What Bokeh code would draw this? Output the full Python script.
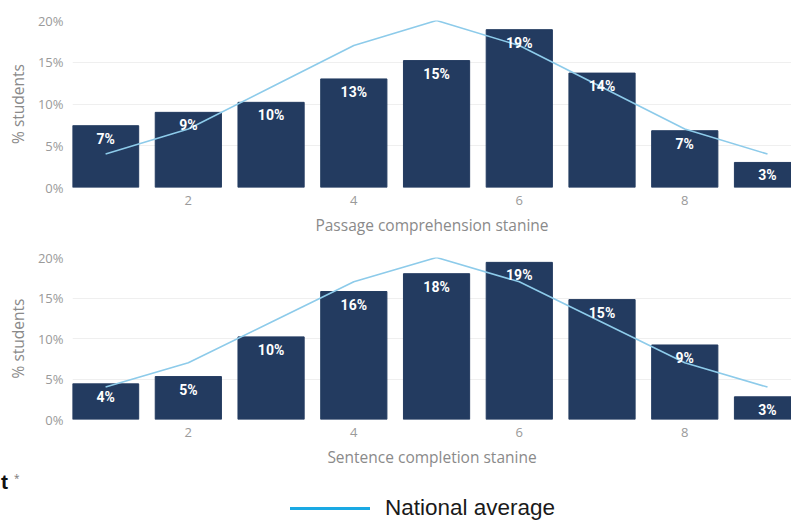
from bokeh.plotting import figure
from bokeh.layouts import column
from bokeh.models import Range1d, ColumnDataSource, Div
from bokeh.core.properties import value
from bokeh.embed import file_html
from bokeh.resources import INLINE

stanines = [1, 2, 3, 4, 5, 6, 7, 8, 9]
passage = [7.4, 9.0, 10.2, 13.0, 15.2, 18.9, 13.7, 6.8, 3.0]
passage_labels = ["7%", "9%", "10%", "13%", "15%", "19%", "14%", "7%", "3%"]
sentence = [4.4, 5.3, 10.2, 15.8, 18.0, 19.4, 14.8, 9.2, 2.8]
sentence_labels = ["4%", "5%", "10%", "16%", "18%", "19%", "15%", "9%", "3%"]
national = [4, 7, 12, 17, 20, 17, 12, 7, 4]
x_ticks = [2, 4, 6, 8]
y_ticks = [0, 5, 10, 15, 20]
legend_label = "National average"

BAR = "#233B60"
LINE = "#8DCBEA"
TICK = "#9A9A9A"
FONT = "Open Sans"
LEFT = 72


def make_chart(vals, labels, xlabel, height, top, bottom):
    p = figure(width=791, height=height, output_backend="svg", toolbar_location=None,
               x_range=Range1d(0.6, 9.29), y_range=Range1d(0, 20),
               min_border_left=LEFT, min_border_right=0, min_border_top=top,
               min_border_bottom=bottom, outline_line_color=None)
    src = ColumnDataSource(dict(x=stanines, top=vals, lab=labels, nat=national))
    p.vbar(x="x", top="top", width=0.8, source=src, color=BAR)
    p.line(x="x", y="nat", source=src, line_color=LINE, line_width=1.6)
    p.text(x="x", y="top", text="lab", source=src, text_color="white",
           text_font=value("Roboto"), text_font_style="bold", text_font_size="14px",
           text_align="center", text_baseline="top", y_offset=5)
    p.xgrid.visible = False
    p.ygrid.grid_line_color = "#EFEFEF"
    p.ygrid.ticker = y_ticks
    p.yaxis.ticker = y_ticks
    p.xaxis.ticker = x_ticks
    p.yaxis.major_label_overrides = {t: f"{t}%" for t in y_ticks}
    for ax in (p.xaxis[0], p.yaxis[0]):
        ax.axis_line_color = None
        ax.major_tick_line_color = None
        ax.minor_tick_line_color = None
        ax.major_tick_in = 0
        ax.major_tick_out = 0
        ax.minor_tick_in = 0
        ax.minor_tick_out = 0
        ax.major_label_text_color = TICK
        ax.major_label_text_font = FONT
        ax.major_label_text_font_size = "13px"
        ax.axis_label_text_color = "#8A8A8A"
        ax.axis_label_text_font = FONT
        ax.axis_label_text_font_size = "15.5px"
        ax.axis_label_text_font_style = "normal"
    p.yaxis.axis_label = "% students"
    p.yaxis.major_label_standoff = 9
    p.yaxis.axis_label_standoff = 6
    p.xaxis.axis_label = xlabel
    p.xaxis.major_label_standoff = 8
    p.xaxis.axis_label_standoff = 6
    return p


p1 = make_chart(passage, passage_labels, "Passage comprehension stanine", 240, 20, 53)
p2 = make_chart(sentence, sentence_labels, "Sentence completion stanine", 230, 17, 50)

html = (
    '<div style="position:relative;width:791px;height:51px;">'
    '<span style="position:absolute;left:1px;top:0px;font-family:\'Liberation Sans\';'
    'font-weight:bold;font-size:21px;line-height:24px;color:#111111;">t</span>'
    '<span style="position:absolute;left:14px;top:2px;font-family:\'Open Sans\';'
    'font-size:10px;line-height:12px;color:#777777;">*</span>'
    '<div style="position:absolute;left:290px;top:37px;width:80px;height:3px;'
    'background:#1AA9E3;"></div>'
    f'<span style="position:absolute;left:385px;top:25px;font-family:\'Liberation Sans\';'
    f'font-size:22.5px;line-height:26px;color:#1A1A1A;white-space:nowrap;">{legend_label}</span>'
    '</div>'
)
legend_div = Div(text=html, width=791, height=51, margin=(0, 0, 0, 0))

layout = column(p1, p2, legend_div, spacing=0)
open("out.html", "w").write(file_html(layout, INLINE))
